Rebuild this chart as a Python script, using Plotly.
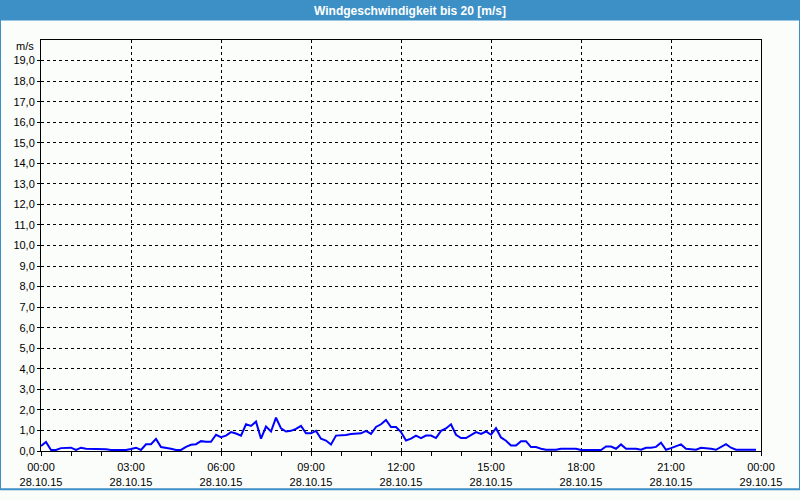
import plotly.graph_objects as go
import pandas as pd

# 10-minute wind speed samples, 28.10.15 00:00 .. 23:50 (m/s)
wind = [
    0.24, 0.44, 0.05, 0.05, 0.14, 0.16, 0.16, 0.05, 0.16, 0.11,
    0.11, 0.11, 0.11, 0.08, 0.05, 0.05, 0.05, 0.05, 0.10, 0.16,
    0.05, 0.33, 0.33, 0.59, 0.19, 0.16, 0.11, 0.05, 0.05, 0.20,
    0.30, 0.33, 0.48, 0.45, 0.45, 0.79, 0.67, 0.75, 0.92, 0.85,
    0.75, 1.30, 1.22, 1.43, 0.60, 1.19, 0.95, 1.62, 1.10, 0.95,
    0.98, 1.08, 1.22, 0.86, 0.86, 0.98, 0.60, 0.51, 0.32, 0.75,
    0.75, 0.78, 0.83, 0.86, 0.86, 0.98, 0.83, 1.17, 1.30, 1.51,
    1.17, 1.17, 0.92, 0.51, 0.60, 0.75, 0.63, 0.75, 0.75, 0.63,
    0.98, 1.10, 1.30, 0.79, 0.63, 0.63, 0.76, 0.92, 0.83, 0.95,
    0.79, 1.11, 0.66, 0.50, 0.27, 0.27, 0.48, 0.48, 0.19, 0.19,
    0.11, 0.06, 0.06, 0.06, 0.11, 0.11, 0.11, 0.11, 0.05, 0.05,
    0.05, 0.05, 0.05, 0.22, 0.22, 0.11, 0.32, 0.11, 0.11, 0.11,
    0.06, 0.16, 0.16, 0.20, 0.40, 0.06, 0.14, 0.24, 0.32, 0.11,
    0.08, 0.06, 0.16, 0.14, 0.11, 0.06, 0.20, 0.33, 0.16, 0.06,
    0.06, 0.06, 0.05, 0.06,
]
times = pd.date_range("2015-10-28 00:00", periods=len(wind), freq="10min")

x_tick_vals = pd.date_range("2015-10-28 00:00", "2015-10-29 00:00", freq="3h")
x_tick_text = [
    "00:00<br>28.10.15", "03:00<br>28.10.15", "06:00<br>28.10.15",
    "09:00<br>28.10.15", "12:00<br>28.10.15", "15:00<br>28.10.15",
    "18:00<br>28.10.15", "21:00<br>28.10.15", "00:00<br>29.10.15",
]
y_tick_vals = list(range(0, 20))
y_tick_text = [f"{v},0" for v in y_tick_vals]

title_text = "Windgeschwindigkeit bis 20 [m/s]"
unit_text = "m/s"

W, H = 800, 500
L, R, T, B = 41, 39, 40, 40
pw, ph = W - L - R, H - T - B


def px_x(p):
    return (p - L) / pw


def px_y(p):
    return (H - B - p) / ph


BG = "#FBFDFB"
BLUE = "#3C90C6"

fig = go.Figure()
fig.add_trace(go.Scatter(
    x=times, y=wind, mode="lines",
    line=dict(color="#0000FF", width=2),
    hoverinfo="skip", showlegend=False,
))

font = dict(family="Liberation Sans, Arial, sans-serif", size=11, color="#000000")

fig.update_layout(
    width=W, height=H,
    margin=dict(l=L, r=R, t=T, b=B, pad=0),
    paper_bgcolor=BG, plot_bgcolor=BG,
    font=font,
    showlegend=False,
    xaxis=dict(
        type="date",
        range=[x_tick_vals[0], x_tick_vals[-1]],
        tickmode="array", tickvals=x_tick_vals, ticktext=x_tick_text,
        showline=True, mirror=True, linecolor="#000000", linewidth=1,
        showgrid=True, gridcolor="#000000", gridwidth=1, griddash="3px,3px",
        ticks="outside", ticklen=4, tickcolor="#000000",
        ticklabelstandoff=2,
        minor=dict(dtick=3600000, ticks="outside", ticklen=4, tickcolor="#000000", showgrid=False),
        zeroline=False, fixedrange=True,
        tickfont=font,
    ),
    yaxis=dict(
        range=[0, 20],
        tickmode="array", tickvals=y_tick_vals, ticktext=y_tick_text,
        showline=True, mirror=True, linecolor="#000000", linewidth=1,
        showgrid=True, gridcolor="#000000", gridwidth=1, griddash="3px,3px",
        ticks="outside", ticklen=3, tickcolor="#000000",
        zeroline=False, fixedrange=True,
        tickfont=font,
    ),
    shapes=[
        # title bar
        dict(type="rect", xref="paper", yref="paper",
             x0=px_x(-5), x1=px_x(W + 5), y0=px_y(20), y1=px_y(-10),
             fillcolor=BLUE, line=dict(width=0), layer="above"),
        # outer frame
        dict(type="rect", xref="paper", yref="paper",
             x0=px_x(0), x1=px_x(W), y0=px_y(499), y1=px_y(0),
             fillcolor="rgba(0,0,0,0)", line=dict(color=BLUE, width=2), layer="above"),
    ],
    annotations=[
        dict(text=f"<b>{title_text}</b>", xref="paper", yref="paper",
             x=px_x(410), y=px_y(10), xanchor="center", yanchor="middle",
             showarrow=False,
             font=dict(family="Liberation Sans, Arial, sans-serif", size=12, color="#FFFFFF")),
        dict(text=unit_text, xref="paper", yref="paper",
             x=px_x(36), y=px_y(46), xanchor="right", yanchor="middle",
             showarrow=False, font=font),
    ],
)

fig.write_html("out.html")
